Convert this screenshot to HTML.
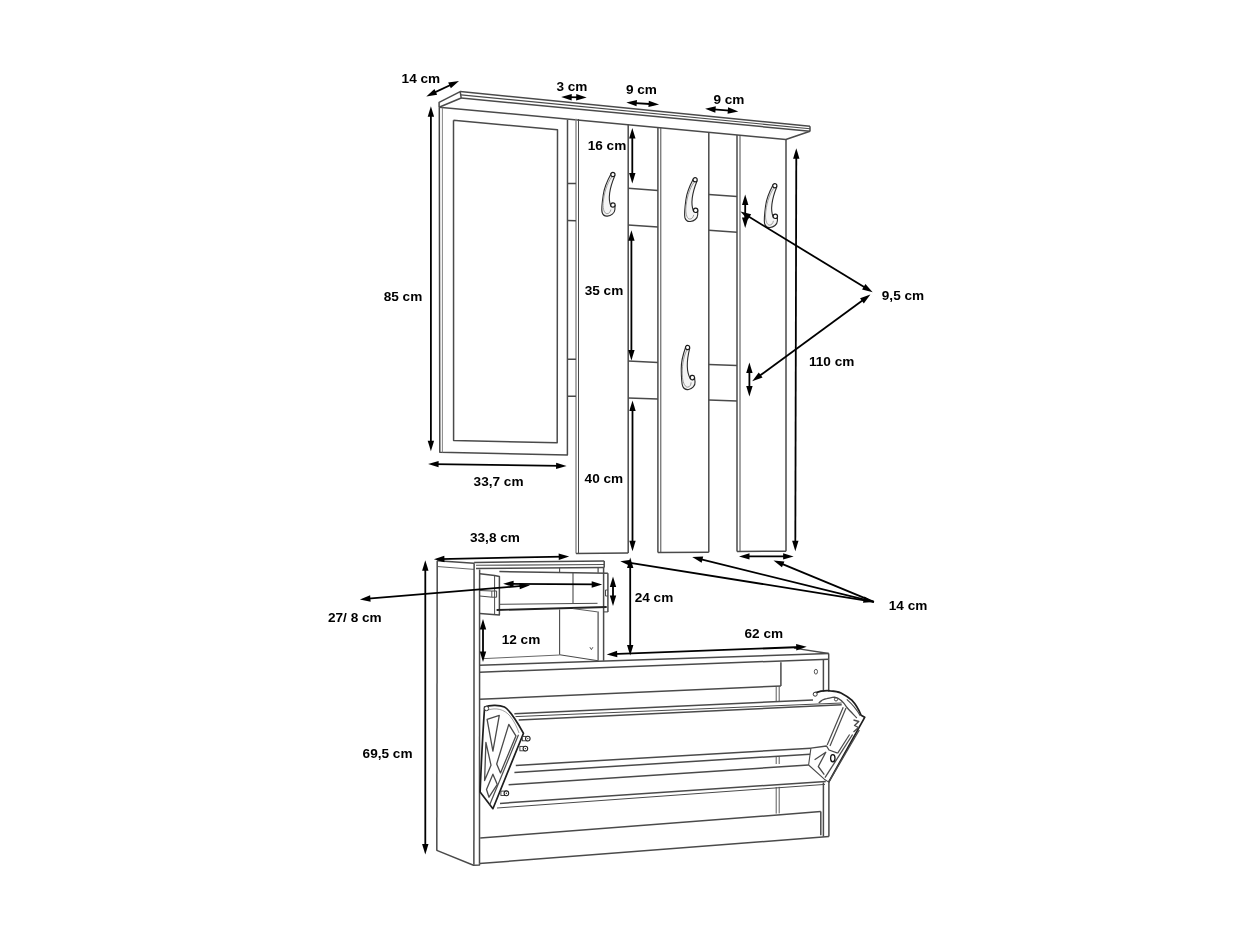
<!DOCTYPE html>
<html><head><meta charset="utf-8"><style>
html,body{margin:0;padding:0;background:#fff;overflow:hidden;}
svg{display:block;}
text{font-family:"Liberation Sans",sans-serif;font-weight:bold;fill:#000;}
svg{will-change:transform;}
</style></head><body>
<svg width="1254" height="940" viewBox="0 0 1254 940">
<rect width="1254" height="940" fill="#fff"/>
<polyline points="439.1,107.2 439.1,102.4 460.2,91.6 461.2,98.0 439.1,107.2" fill="none" stroke="#4a4a4a" stroke-width="1.5" stroke-linejoin="round"/>
<line x1="460.2" y1="91.6" x2="810.0" y2="126.2" stroke="#4a4a4a" stroke-width="1.5"/>
<line x1="461.0" y1="94.9" x2="810.0" y2="128.7" stroke="#4a4a4a" stroke-width="1.15"/>
<line x1="461.2" y1="98.0" x2="810.0" y2="131.2" stroke="#4a4a4a" stroke-width="1.5"/>
<line x1="810.0" y1="126.2" x2="810.0" y2="131.4" stroke="#4a4a4a" stroke-width="1.5"/>
<polyline points="439.1,107.2 785.8,139.5 810.0,131.2" fill="none" stroke="#4a4a4a" stroke-width="1.5" stroke-linejoin="round"/>
<polyline points="439.3,107.2 439.8,452.3 567.4,454.9 567.5,119.7" fill="none" stroke="#4a4a4a" stroke-width="1.5" stroke-linejoin="round"/>
<line x1="442.4" y1="107.6" x2="442.4" y2="452.5" stroke="#777" stroke-width="0.9"/>
<polyline points="453.5,120.3 557.5,129.8 557.2,442.8 453.6,440.6 453.5,120.3" fill="none" stroke="#4a4a4a" stroke-width="1.5" stroke-linejoin="round"/>
<line x1="576.0" y1="118.8" x2="576.0" y2="553.4" stroke="#888" stroke-width="1.4"/>
<line x1="578.5" y1="119.0" x2="578.5" y2="553.4" stroke="#4a4a4a" stroke-width="1.0"/>
<line x1="567.5" y1="183.4" x2="576" y2="183.6" stroke="#4a4a4a" stroke-width="1.5"/>
<line x1="567.5" y1="220.6" x2="576" y2="220.8" stroke="#4a4a4a" stroke-width="1.5"/>
<line x1="567.5" y1="359.2" x2="576" y2="359.3" stroke="#4a4a4a" stroke-width="1.5"/>
<line x1="567.5" y1="396.2" x2="576" y2="396.3" stroke="#4a4a4a" stroke-width="1.5"/>
<line x1="628.2" y1="124.6" x2="628.2" y2="552.9" stroke="#4a4a4a" stroke-width="1.5"/>
<line x1="576.0" y1="553.4" x2="628.2" y2="552.9" stroke="#4a4a4a" stroke-width="1.5"/>
<line x1="628.2" y1="188.3" x2="658.0" y2="190.4" stroke="#4a4a4a" stroke-width="1.5"/>
<line x1="628.2" y1="224.9" x2="658.0" y2="227.0" stroke="#4a4a4a" stroke-width="1.5"/>
<line x1="628.2" y1="361.1" x2="658.0" y2="362.4" stroke="#4a4a4a" stroke-width="1.5"/>
<line x1="628.2" y1="398.0" x2="658.0" y2="399.1" stroke="#4a4a4a" stroke-width="1.5"/>
<line x1="657.9" y1="127.5" x2="657.9" y2="552.6" stroke="#4a4a4a" stroke-width="1.5"/>
<line x1="660.8" y1="127.8" x2="660.8" y2="552.6" stroke="#4a4a4a" stroke-width="1.0"/>
<line x1="708.8" y1="132.3" x2="708.8" y2="552.2" stroke="#4a4a4a" stroke-width="1.5"/>
<line x1="657.9" y1="552.6" x2="708.8" y2="552.2" stroke="#4a4a4a" stroke-width="1.5"/>
<line x1="708.8" y1="194.4" x2="737.0" y2="196.4" stroke="#4a4a4a" stroke-width="1.5"/>
<line x1="708.8" y1="230.3" x2="737.0" y2="232.3" stroke="#4a4a4a" stroke-width="1.5"/>
<line x1="708.8" y1="364.6" x2="737.0" y2="365.5" stroke="#4a4a4a" stroke-width="1.5"/>
<line x1="708.8" y1="399.9" x2="737.0" y2="401.0" stroke="#4a4a4a" stroke-width="1.5"/>
<line x1="737.0" y1="134.9" x2="737.0" y2="551.4" stroke="#4a4a4a" stroke-width="1.5"/>
<line x1="740.0" y1="135.2" x2="740.0" y2="551.4" stroke="#4a4a4a" stroke-width="1.0"/>
<line x1="786.0" y1="139.3" x2="786.0" y2="551.2" stroke="#4a4a4a" stroke-width="1.5"/>
<line x1="737.0" y1="551.4" x2="786.0" y2="551.2" stroke="#4a4a4a" stroke-width="1.5"/>
<g transform="translate(612.9,174.5) rotate(0.0) scale(1.0)"><path d="M-1.8,-0.8 C-5,5 -8.5,12 -9.6,20 C-10.8,28 -11.6,34 -10.9,37.5 C-10,40.8 -8,41.8 -5.5,41.6 C-2,41.3 1.8,39 2,35 L2.1,31 L-2.2,31.2 C-3.8,27 -4.8,17 1.9,1.2 Z" fill="#f4f4f4" stroke="#2b2b2b" stroke-width="1.1"/><path d="M-1.2,2.5 C-6,9 -9,19 -9.8,29 C-10,35 -8.5,39 -6,39.2 C-4,39.3 -2.5,37.5 -2,35" fill="none" stroke="#888" stroke-width="0.8"/><circle cx="0" cy="0" r="2.1" fill="#fff" stroke="#1a1a1a" stroke-width="1.2"/><circle cx="0" cy="30.5" r="2.2" fill="#fff" stroke="#1a1a1a" stroke-width="1.2"/></g>
<g transform="translate(695.1,179.8) rotate(-1) scale(1.0)"><path d="M-1.8,-0.8 C-5,5 -8.5,12 -9.6,20 C-10.8,28 -11.6,34 -10.9,37.5 C-10,40.8 -8,41.8 -5.5,41.6 C-2,41.3 1.8,39 2,35 L2.1,31 L-2.2,31.2 C-3.8,27 -4.8,17 1.9,1.2 Z" fill="#f4f4f4" stroke="#2b2b2b" stroke-width="1.1"/><path d="M-1.2,2.5 C-6,9 -9,19 -9.8,29 C-10,35 -8.5,39 -6,39.2 C-4,39.3 -2.5,37.5 -2,35" fill="none" stroke="#888" stroke-width="0.8"/><circle cx="0" cy="0" r="2.1" fill="#fff" stroke="#1a1a1a" stroke-width="1.2"/><circle cx="0" cy="30.5" r="2.2" fill="#fff" stroke="#1a1a1a" stroke-width="1.2"/></g>
<g transform="translate(774.8,185.8) rotate(-1) scale(1.0)"><path d="M-1.8,-0.8 C-5,5 -8.5,12 -9.6,20 C-10.8,28 -11.6,34 -10.9,37.5 C-10,40.8 -8,41.8 -5.5,41.6 C-2,41.3 1.8,39 2,35 L2.1,31 L-2.2,31.2 C-3.8,27 -4.8,17 1.9,1.2 Z" fill="#f4f4f4" stroke="#2b2b2b" stroke-width="1.1"/><path d="M-1.2,2.5 C-6,9 -9,19 -9.8,29 C-10,35 -8.5,39 -6,39.2 C-4,39.3 -2.5,37.5 -2,35" fill="none" stroke="#888" stroke-width="0.8"/><circle cx="0" cy="0" r="2.1" fill="#fff" stroke="#1a1a1a" stroke-width="1.2"/><circle cx="0" cy="30.5" r="2.2" fill="#fff" stroke="#1a1a1a" stroke-width="1.2"/></g>
<g transform="translate(687.6,347.5) rotate(-9) scale(1.0)"><path d="M-1.8,-0.8 C-5,5 -8.5,12 -9.6,20 C-10.8,28 -11.6,34 -10.9,37.5 C-10,40.8 -8,41.8 -5.5,41.6 C-2,41.3 1.8,39 2,35 L2.1,31 L-2.2,31.2 C-3.8,27 -4.8,17 1.9,1.2 Z" fill="#f4f4f4" stroke="#2b2b2b" stroke-width="1.1"/><path d="M-1.2,2.5 C-6,9 -9,19 -9.8,29 C-10,35 -8.5,39 -6,39.2 C-4,39.3 -2.5,37.5 -2,35" fill="none" stroke="#888" stroke-width="0.8"/><circle cx="0" cy="0" r="2.1" fill="#fff" stroke="#1a1a1a" stroke-width="1.2"/><circle cx="0" cy="30.5" r="2.2" fill="#fff" stroke="#1a1a1a" stroke-width="1.2"/></g>
<polyline points="437.2,560.8 474.1,563.2" fill="none" stroke="#4a4a4a" stroke-width="1.5" stroke-linejoin="round"/>
<line x1="437.2" y1="560.8" x2="436.8" y2="850.7" stroke="#4a4a4a" stroke-width="1.5"/>
<polyline points="437.2,566.5 474.1,569.4" fill="none" stroke="#555" stroke-width="0.9" stroke-linejoin="round"/>
<polyline points="436.8,850.4 473.5,865.2 479.5,865.0 479.5,863.5" fill="none" stroke="#4a4a4a" stroke-width="1.5" stroke-linejoin="round"/>
<line x1="474.1" y1="563.2" x2="473.9" y2="864.8" stroke="#4a4a4a" stroke-width="1.5"/>
<line x1="479.6" y1="569.4" x2="479.5" y2="863.5" stroke="#4a4a4a" stroke-width="1.5"/>
<line x1="474.1" y1="562.4" x2="604.2" y2="561.1" stroke="#4a4a4a" stroke-width="1.5"/>
<line x1="476.0" y1="565.3" x2="604.2" y2="564.5" stroke="#555" stroke-width="1.1"/>
<line x1="476.0" y1="568.4" x2="604.2" y2="567.4" stroke="#4a4a4a" stroke-width="1.5"/>
<line x1="604.2" y1="561.1" x2="604.2" y2="567.4" stroke="#4a4a4a" stroke-width="1.5"/>
<line x1="603.6" y1="567.4" x2="603.6" y2="660.8" stroke="#4a4a4a" stroke-width="1.5"/>
<line x1="598.1" y1="567.8" x2="598.1" y2="572.8" stroke="#4a4a4a" stroke-width="1.2"/>
<line x1="598.1" y1="611.5" x2="598.1" y2="660.8" stroke="#4a4a4a" stroke-width="1.2"/>
<line x1="559.6" y1="567.8" x2="559.6" y2="572.1" stroke="#4a4a4a" stroke-width="1.1"/>
<line x1="559.6" y1="609.4" x2="559.6" y2="654.7" stroke="#4a4a4a" stroke-width="1.1"/>
<polyline points="479.8,573.7 494.6,575.6 499.4,576.6 499.4,614.9 479.8,613.4" fill="none" stroke="#4a4a4a" stroke-width="1.5" stroke-linejoin="round"/>
<line x1="494.6" y1="575.6" x2="494.6" y2="614.5" stroke="#4a4a4a" stroke-width="1.0"/>
<line x1="499.4" y1="571.5" x2="607.9" y2="573.3" stroke="#4a4a4a" stroke-width="1.5"/>
<line x1="607.9" y1="573.3" x2="607.9" y2="611.9" stroke="#4a4a4a" stroke-width="1.5"/>
<line x1="603.6" y1="611.9" x2="607.9" y2="611.9" stroke="#4a4a4a" stroke-width="1.1"/>
<line x1="573.0" y1="572.3" x2="573.0" y2="603.3" stroke="#4a4a4a" stroke-width="1.1"/>
<line x1="499.4" y1="604.3" x2="597.5" y2="603.3" stroke="#4a4a4a" stroke-width="1.0"/>
<line x1="496.6" y1="610.0" x2="606.7" y2="607.0" stroke="#222" stroke-width="1.9"/>
<line x1="573.0" y1="608.6" x2="597.5" y2="611.9" stroke="#4a4a4a" stroke-width="0.9"/>
<polyline points="479.8,590.5 491.8,591.0 496.6,591.0 496.6,597.2 491.8,597.2 479.8,596.0" fill="none" stroke="#4a4a4a" stroke-width="1.0" stroke-linejoin="round"/>
<line x1="491.8" y1="591.0" x2="491.8" y2="597.2" stroke="#4a4a4a" stroke-width="0.9"/>
<path d="M607.9,590 L605.5,590 L605.5,596 L607.9,596" fill="none" stroke="#4a4a4a" stroke-width="1.0" stroke-linejoin="round"/>
<line x1="484.0" y1="658.6" x2="559.6" y2="655.0" stroke="#666" stroke-width="1.0"/>
<line x1="559.6" y1="654.7" x2="598.1" y2="660.8" stroke="#4a4a4a" stroke-width="1.1"/>
<line x1="479.5" y1="665.3" x2="828.7" y2="653.5" stroke="#4a4a4a" stroke-width="1.5"/>
<line x1="828.7" y1="653.5" x2="828.7" y2="659.2" stroke="#4a4a4a" stroke-width="1.5"/>
<line x1="479.5" y1="672.2" x2="828.7" y2="659.2" stroke="#4a4a4a" stroke-width="1.5"/>
<line x1="794.0" y1="648.2" x2="828.7" y2="653.5" stroke="#4a4a4a" stroke-width="1.3"/>
<line x1="823.4" y1="659.6" x2="823.4" y2="691.5" stroke="#4a4a4a" stroke-width="1.5"/>
<line x1="828.7" y1="659.2" x2="828.7" y2="691.5" stroke="#4a4a4a" stroke-width="1.5"/>
<line x1="823.4" y1="782.5" x2="823.4" y2="836.6" stroke="#4a4a4a" stroke-width="1.5"/>
<line x1="828.9" y1="781.5" x2="828.9" y2="836.6" stroke="#4a4a4a" stroke-width="1.5"/>
<line x1="479.5" y1="699.3" x2="780.9" y2="686.0" stroke="#4a4a4a" stroke-width="1.5"/>
<line x1="780.9" y1="662.3" x2="780.9" y2="686.0" stroke="#4a4a4a" stroke-width="1.5"/>
<line x1="776.2" y1="686.2" x2="776.2" y2="701.0" stroke="#4a4a4a" stroke-width="0.9"/>
<line x1="779.2" y1="686.1" x2="779.2" y2="701.0" stroke="#4a4a4a" stroke-width="0.9"/>
<line x1="514.4" y1="713.7" x2="813.0" y2="699.9" stroke="#4a4a4a" stroke-width="1.5"/>
<line x1="515.5" y1="716.6" x2="841.7" y2="703.0" stroke="#4a4a4a" stroke-width="1.0"/>
<line x1="518.7" y1="720.1" x2="841.7" y2="704.8" stroke="#4a4a4a" stroke-width="1.5"/>
<line x1="515.8" y1="765.4" x2="810.9" y2="748.2" stroke="#4a4a4a" stroke-width="1.5"/>
<line x1="514.4" y1="772.5" x2="810.1" y2="754.2" stroke="#4a4a4a" stroke-width="1.5"/>
<line x1="508.6" y1="784.7" x2="808.6" y2="765.0" stroke="#4a4a4a" stroke-width="1.5"/>
<line x1="500.0" y1="803.4" x2="825.8" y2="781.4" stroke="#4a4a4a" stroke-width="1.5"/>
<line x1="497.0" y1="808.0" x2="825.0" y2="784.4" stroke="#4a4a4a" stroke-width="1.0"/>
<line x1="776.2" y1="756.5" x2="776.2" y2="764.0" stroke="#4a4a4a" stroke-width="0.9"/>
<line x1="779.2" y1="756.3" x2="779.2" y2="764.0" stroke="#4a4a4a" stroke-width="0.9"/>
<line x1="776.2" y1="787.0" x2="776.2" y2="813.6" stroke="#4a4a4a" stroke-width="0.9"/>
<line x1="779.2" y1="786.8" x2="779.2" y2="813.4" stroke="#4a4a4a" stroke-width="0.9"/>
<line x1="480.2" y1="838.0" x2="820.8" y2="811.6" stroke="#4a4a4a" stroke-width="1.5"/>
<line x1="820.8" y1="811.6" x2="820.8" y2="835.3" stroke="#4a4a4a" stroke-width="1.5"/>
<line x1="479.5" y1="863.5" x2="828.9" y2="836.6" stroke="#4a4a4a" stroke-width="1.5"/>
<path d="M484.6,707.1 C489,705.2 499,704.5 504.4,707.1 C510,710 516,720 523.5,733.3 L492.9,808.7 L480.1,792.1 C481,770 483,730 484.6,707.1 Z" fill="#fff" stroke="#1e1e1e" stroke-width="1.7" stroke-linejoin="round"/>
<line x1="518.5" y1="734.8" x2="489.8" y2="804.5" stroke="#4a4a4a" stroke-width="1.2"/>
<path d="M488,710 C496,707.5 504,709 510,716 C514,721 517,727 519,733" fill="none" stroke="#777" stroke-width="0.7" stroke-linejoin="round"/>
<path d="M487.1,719.3 L499.3,715.4 L492.9,751.2 Z" fill="none" stroke="#4a4a4a" stroke-width="1.3" stroke-linejoin="round"/>
<path d="M508.8,724.4 L515.9,735.9 L500.5,772.9 L496.7,764 Z" fill="none" stroke="#4a4a4a" stroke-width="1.3" stroke-linejoin="round"/>
<path d="M485.9,742.3 L491,765.2 L484.6,780.6 Z" fill="none" stroke="#4a4a4a" stroke-width="1.3" stroke-linejoin="round"/>
<path d="M492.9,774.2 L497.3,784.4 L489,797.2 L486.5,789.5 Z" fill="none" stroke="#4a4a4a" stroke-width="1.3" stroke-linejoin="round"/>
<rect x="522.3" y="736.4" width="5.5" height="4.4" fill="#fff" stroke="#333" stroke-width="0.9"/>
<ellipse cx="527.8" cy="738.6" rx="2.3" ry="2.4" fill="#fff" stroke="#222" stroke-width="1.1"/>
<circle cx="527.8" cy="738.6" r="0.7" fill="#333"/>
<rect x="519.9" y="746.4" width="5.5" height="4.4" fill="#fff" stroke="#333" stroke-width="0.9"/>
<ellipse cx="525.4" cy="748.6" rx="2.3" ry="2.4" fill="#fff" stroke="#222" stroke-width="1.1"/>
<circle cx="525.4" cy="748.6" r="0.7" fill="#333"/>
<rect x="500.9" y="791.0999999999999" width="5.5" height="4.4" fill="#fff" stroke="#333" stroke-width="0.9"/>
<ellipse cx="506.4" cy="793.3" rx="2.3" ry="2.4" fill="#fff" stroke="#222" stroke-width="1.1"/>
<circle cx="506.4" cy="793.3" r="0.7" fill="#333"/>
<circle cx="486.5" cy="708.5" r="2.2" fill="#fff" stroke="#333" stroke-width="1"/>
<path d="M815.2,692.9 C820,691 826,690.4 830.3,690.8 C835,691 838,691.5 841,692.9 C845,695 849,697.5 851.8,700.1 C856,704.5 859,710 861.1,715.2 L864.7,717.3 L828.7,782.1" fill="none" stroke="#1e1e1e" stroke-width="1.7" stroke-linejoin="round"/>
<path d="M846.8,699.4 C852,704 857,710 860.4,715.9" fill="none" stroke="#4a4a4a" stroke-width="1.2" stroke-linejoin="round"/>
<path d="M818.8,703 C821,700.5 824,699 826.7,698.7 C830,698 832,697.3 834.6,697.2 C840,698 844,703 846.8,707.3 C850,711 854,715 856.8,718" fill="none" stroke="#4a4a4a" stroke-width="1.3" stroke-linejoin="round"/>
<line x1="859.3" y1="730.0" x2="828.7" y2="782.1" stroke="#4a4a4a" stroke-width="1.3"/>
<line x1="852.6" y1="734.5" x2="825.0" y2="777.7" stroke="#4a4a4a" stroke-width="1.3"/>
<line x1="849.6" y1="734.5" x2="837.7" y2="753.1" stroke="#4a4a4a" stroke-width="1.2"/>
<line x1="843.2" y1="707.3" x2="827.2" y2="744.9" stroke="#4a4a4a" stroke-width="1.2"/>
<line x1="846.0" y1="708.0" x2="830.0" y2="746.0" stroke="#4a4a4a" stroke-width="1.2"/>
<path d="M810.9,748.2 L826.5,746.0 L829,750 L837.7,753.1" fill="none" stroke="#4a4a4a" stroke-width="1.3" stroke-linejoin="round"/>
<path d="M810.9,748.2 L808.6,765 L824.3,779.2 L828.7,782.1" fill="none" stroke="#4a4a4a" stroke-width="1.1" stroke-linejoin="round"/>
<path d="M814.6,759.8 L825.8,752.3 L818.3,766.5 L824.3,774.7" fill="none" stroke="#4a4a4a" stroke-width="1.3" stroke-linejoin="round"/>
<ellipse cx="832.8" cy="758.3" rx="2.2" ry="3.6" fill="none" stroke="#111" stroke-width="1.3"/>
<path d="M853.5,720 L858.8,721.5 L854.5,725.5 L858.5,727.5 L853.5,732" fill="none" stroke="#4a4a4a" stroke-width="1.3" stroke-linejoin="round"/>
<circle cx="815.2" cy="694.2" r="2.0" fill="#fff" stroke="#333" stroke-width="1"/>
<circle cx="836.0" cy="699.4" r="1.6" fill="#fff" stroke="#333" stroke-width="0.9"/>
<path d="M589.9,647.2 L591.4,649.6 L592.9,647.2" fill="none" stroke="#444" stroke-width="0.9" stroke-linejoin="round"/>
<ellipse cx="815.9" cy="671.7" rx="1.6" ry="2.4" fill="none" stroke="#444" stroke-width="0.9"/>
<line x1="431.05" y1="94.16" x2="454.25" y2="83.24" stroke="#000" stroke-width="1.8"/>
<polygon points="426.30,96.40 434.44,89.03 437.16,94.82" fill="#000"/>
<polygon points="459.00,81.00 450.86,88.37 448.14,82.58" fill="#000"/>
<line x1="566.45" y1="97.1" x2="581.45" y2="97.4" stroke="#000" stroke-width="1.8"/>
<polygon points="561.20,97.00 571.76,94.01 571.64,100.41" fill="#000"/>
<polygon points="586.70,97.50 576.14,100.49 576.26,94.09" fill="#000"/>
<line x1="631.54" y1="102.84" x2="653.86" y2="104.26" stroke="#000" stroke-width="1.8"/>
<polygon points="626.30,102.50 636.98,99.98 636.57,106.36" fill="#000"/>
<polygon points="659.10,104.60 648.42,107.12 648.83,100.74" fill="#000"/>
<line x1="710.33" y1="109.13" x2="733.07" y2="110.97" stroke="#000" stroke-width="1.8"/>
<polygon points="705.10,108.70 715.82,106.36 715.31,112.74" fill="#000"/>
<polygon points="738.30,111.40 727.58,113.74 728.09,107.36" fill="#000"/>
<line x1="430.9" y1="111.55" x2="430.9" y2="446.05" stroke="#000" stroke-width="1.8"/>
<polygon points="430.90,106.30 434.10,116.80 427.70,116.80" fill="#000"/>
<polygon points="430.90,451.30 427.70,440.80 434.10,440.80" fill="#000"/>
<line x1="433.35" y1="464.08" x2="561.35" y2="465.92" stroke="#000" stroke-width="1.8"/>
<polygon points="428.10,464.00 438.65,460.95 438.55,467.35" fill="#000"/>
<polygon points="566.60,466.00 556.05,469.05 556.15,462.65" fill="#000"/>
<line x1="632.3" y1="133.25" x2="632.3" y2="178.15" stroke="#000" stroke-width="1.8"/>
<polygon points="632.30,128.00 635.50,138.50 629.10,138.50" fill="#000"/>
<polygon points="632.30,183.40 629.10,172.90 635.50,172.90" fill="#000"/>
<line x1="631.4" y1="235.45" x2="631.4" y2="355.35" stroke="#000" stroke-width="1.8"/>
<polygon points="631.40,230.20 634.60,240.70 628.20,240.70" fill="#000"/>
<polygon points="631.40,360.60 628.20,350.10 634.60,350.10" fill="#000"/>
<line x1="632.5" y1="405.85" x2="632.5" y2="546.05" stroke="#000" stroke-width="1.8"/>
<polygon points="632.50,400.60 635.70,411.10 629.30,411.10" fill="#000"/>
<polygon points="632.50,551.30 629.30,540.80 635.70,540.80" fill="#000"/>
<line x1="745.2" y1="199.75" x2="745.2" y2="222.75" stroke="#000" stroke-width="1.8"/>
<polygon points="745.20,194.50 748.40,205.00 742.00,205.00" fill="#000"/>
<polygon points="745.20,228.00 742.00,217.50 748.40,217.50" fill="#000"/>
<line x1="749.4" y1="367.75" x2="749.4" y2="391.15" stroke="#000" stroke-width="1.8"/>
<polygon points="749.40,362.50 752.60,373.00 746.20,373.00" fill="#000"/>
<polygon points="749.40,396.40 746.20,385.90 752.60,385.90" fill="#000"/>
<line x1="744.98" y1="214.34" x2="868.22" y2="289.56" stroke="#000" stroke-width="1.8"/>
<polygon points="740.50,211.60 751.13,214.34 747.79,219.80" fill="#000"/>
<polygon points="872.70,292.30 862.07,289.56 865.41,284.10" fill="#000"/>
<line x1="756.43" y1="378.1" x2="866.17" y2="297.7" stroke="#000" stroke-width="1.8"/>
<polygon points="752.20,381.20 758.78,372.41 762.56,377.58" fill="#000"/>
<polygon points="870.40,294.60 863.82,303.39 860.04,298.22" fill="#000"/>
<line x1="796.29" y1="153.55" x2="795.31" y2="545.95" stroke="#000" stroke-width="1.8"/>
<polygon points="796.30,148.30 799.47,158.81 793.07,158.79" fill="#000"/>
<polygon points="795.30,551.20 792.13,540.69 798.53,540.71" fill="#000"/>
<line x1="744.25" y1="556.4" x2="788.35" y2="556.4" stroke="#000" stroke-width="1.8"/>
<polygon points="739.00,556.40 749.50,553.20 749.50,559.60" fill="#000"/>
<polygon points="793.60,556.40 783.10,559.60 783.10,553.20" fill="#000"/>
<line x1="439.15" y1="559.1" x2="563.95" y2="556.6" stroke="#000" stroke-width="1.8"/>
<polygon points="433.90,559.20 444.33,555.79 444.46,562.19" fill="#000"/>
<polygon points="569.20,556.50 558.77,559.91 558.64,553.51" fill="#000"/>
<line x1="425.3" y1="565.55" x2="425.3" y2="849.35" stroke="#000" stroke-width="1.8"/>
<polygon points="425.30,560.30 428.50,570.80 422.10,570.80" fill="#000"/>
<polygon points="425.30,854.60 422.10,844.10 428.50,844.10" fill="#000"/>
<line x1="365.13" y1="598.96" x2="524.77" y2="585.64" stroke="#000" stroke-width="1.8"/>
<polygon points="359.90,599.40 370.10,595.34 370.63,601.72" fill="#000"/>
<polygon points="530.00,585.20 519.80,589.26 519.27,582.88" fill="#000"/>
<line x1="508.35" y1="583.84" x2="596.95" y2="584.46" stroke="#000" stroke-width="1.8"/>
<polygon points="503.10,583.80 513.62,580.67 513.58,587.07" fill="#000"/>
<polygon points="602.20,584.50 591.68,587.63 591.72,581.23" fill="#000"/>
<line x1="613.0" y1="581.85" x2="613.0" y2="600.75" stroke="#000" stroke-width="1.8"/>
<polygon points="613.00,576.60 616.20,587.10 609.80,587.10" fill="#000"/>
<polygon points="613.00,606.00 609.80,595.50 616.20,595.50" fill="#000"/>
<line x1="483.0" y1="624.25" x2="483.0" y2="656.75" stroke="#000" stroke-width="1.8"/>
<polygon points="483.00,619.00 486.20,629.50 479.80,629.50" fill="#000"/>
<polygon points="483.00,662.00 479.80,651.50 486.20,651.50" fill="#000"/>
<line x1="630.2" y1="562.75" x2="630.2" y2="650.15" stroke="#000" stroke-width="1.8"/>
<polygon points="630.20,557.50 633.40,568.00 627.00,568.00" fill="#000"/>
<polygon points="630.20,655.40 627.00,644.90 633.40,644.90" fill="#000"/>
<line x1="611.95" y1="654.2" x2="801.45" y2="647.0" stroke="#000" stroke-width="1.8"/>
<polygon points="606.70,654.40 617.07,650.80 617.31,657.20" fill="#000"/>
<polygon points="806.70,646.80 796.33,650.40 796.09,644.00" fill="#000"/>
<line x1="873.9" y1="601.9" x2="625.48" y2="562.03" stroke="#000" stroke-width="1.8"/>
<polygon points="620.30,561.20 631.17,559.70 630.16,566.02" fill="#000"/>
<line x1="873.9" y1="601.9" x2="697.3" y2="558.36" stroke="#000" stroke-width="1.8"/>
<polygon points="692.20,557.10 703.16,556.51 701.63,562.72" fill="#000"/>
<line x1="873.9" y1="601.9" x2="778.35" y2="562.41" stroke="#000" stroke-width="1.8"/>
<polygon points="773.50,560.40 784.43,561.45 781.98,567.37" fill="#000"/>
<polygon points="873.90,601.90 862.95,602.68 864.38,596.44" fill="#000"/>
<text x="401.6" y="83.0" font-size="13.6">14 cm</text>
<text x="556.4" y="90.6" font-size="13.6">3 cm</text>
<text x="625.9" y="94.2" font-size="13.6">9 cm</text>
<text x="713.4" y="103.5" font-size="13.6">9 cm</text>
<text x="587.7" y="150.4" font-size="13.6">16 cm</text>
<text x="383.7" y="301.3" font-size="13.6">85 cm</text>
<text x="584.7" y="295.0" font-size="13.6">35 cm</text>
<text x="881.8" y="300.0" font-size="13.6">9,5 cm</text>
<text x="809.0" y="366.0" font-size="13.6">110 cm</text>
<text x="473.6" y="486.3" font-size="13.6">33,7 cm</text>
<text x="584.6" y="483.0" font-size="13.6">40 cm</text>
<text x="470.0" y="542.2" font-size="13.6">33,8 cm</text>
<text x="634.7" y="601.9" font-size="13.6">24 cm</text>
<text x="888.8" y="610.0" font-size="13.6">14 cm</text>
<text x="328.0" y="622.3" font-size="13.6">27/ 8 cm</text>
<text x="501.7" y="644.1" font-size="13.6">12 cm</text>
<text x="744.5" y="638.2" font-size="13.6">62 cm</text>
<text x="362.6" y="757.6" font-size="13.6">69,5 cm</text>
</svg>
</body></html>
